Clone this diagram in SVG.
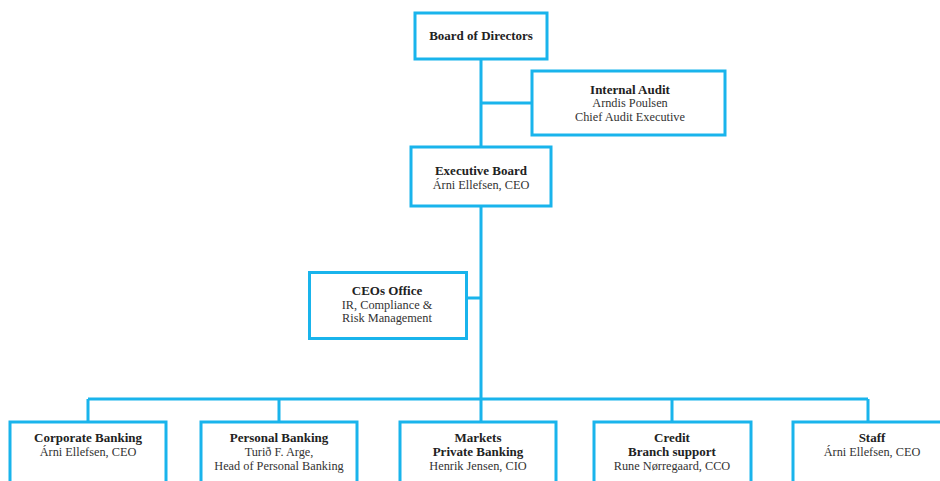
<svg xmlns="http://www.w3.org/2000/svg" width="940" height="481" viewBox="0 0 940 481">
<style>
.box{fill:#fff;stroke:#19b4ec;stroke-width:3}
.ln{fill:none;stroke:#19b4ec;stroke-width:3}
text{font-family:"Liberation Serif",serif;fill:#333;text-anchor:middle;font-size:12.3px}
.t{font-weight:bold;fill:#222;font-size:13px}
</style>
<rect width="940" height="481" fill="#fff"/>
<g id="connectors">
<path class="ln" d="M481 60V147M481 103H532M481 207V399M467 298H481M88 399H868M88 399V421M279 399V421M481 399V421M672 399V421M868 399V421"/>
</g>
<g id="board"><rect class="box" x="415" y="13" width="132" height="46"/><text class="t" x="481" y="40">Board of Directors</text></g>
<g id="audit"><rect class="box" x="532" y="71" width="193" height="64"/><text class="t" x="630" y="94">Internal Audit</text><text x="630" y="107">Arndis Poulsen</text><text x="630" y="121">Chief Audit Executive</text></g>
<g id="exec"><rect class="box" x="411" y="147" width="140" height="59"/><text class="t" x="481" y="175">Executive Board</text><text x="481" y="189">Árni Ellefsen, CEO</text></g>
<g id="ceo"><rect class="box" x="309.5" y="272.5" width="157" height="66"/><text class="t" x="387" y="295">CEOs Office</text><text x="387" y="309">IR, Compliance &amp;</text><text x="387" y="322">Risk Management</text></g>
<g id="corp"><rect class="box" x="10" y="422" width="156" height="80"/><text class="t" x="88" y="442">Corporate Banking</text><text x="88" y="456">Árni Ellefsen, CEO</text></g>
<g id="pers"><rect class="box" x="201" y="422" width="156" height="80"/><text class="t" x="279" y="442">Personal Banking</text><text x="279" y="456">Turið F. Arge,</text><text x="279" y="470">Head of Personal Banking</text></g>
<g id="markets"><rect class="box" x="400" y="422" width="156" height="80"/><text class="t" x="478" y="442">Markets</text><text class="t" x="478" y="456">Private Banking</text><text x="478" y="470">Henrik Jensen, CIO</text></g>
<g id="credit"><rect class="box" x="594" y="422" width="157" height="80"/><text class="t" x="672" y="442">Credit</text><text class="t" x="672" y="456">Branch support</text><text x="672" y="470">Rune Nørregaard, CCO</text></g>
<g id="staff"><rect class="box" x="793" y="422" width="158" height="80"/><text class="t" x="872" y="442">Staff</text><text x="872" y="456">Árni Ellefsen, CEO</text></g>
</svg>
